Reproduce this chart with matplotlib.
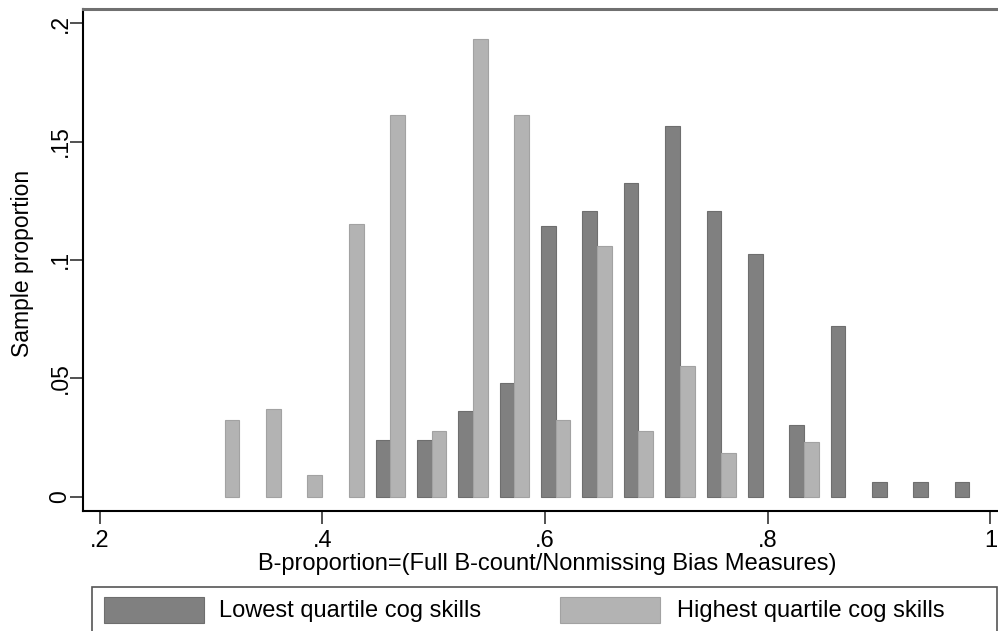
import numpy as np
import matplotlib
matplotlib.use("Agg")
import matplotlib.pyplot as plt
from matplotlib.patches import Rectangle

# bin midpoints of the B-proportion histogram
bin_mid = [0.3123, 0.3495, 0.3866, 0.4238, 0.4610, 0.4981, 0.5353, 0.5725,
           0.6096, 0.6468, 0.6839, 0.7211, 0.7583, 0.7954, 0.8326, 0.8697,
           0.9069, 0.9441, 0.9812]

# sample proportions per bin
lowest_q = [0, 0, 0, 0, 0.0241, 0.0241, 0.0361, 0.0482, 0.1145, 0.1205,
            0.1325, 0.1566, 0.1205, 0.1024, 0.0301, 0.0723, 0.0060, 0.0060, 0.0060]
highest_q = [0.0323, 0.0369, 0.0092, 0.1152, 0.1613, 0.0276, 0.1935, 0.1613,
             0.0323, 0.1060, 0.0276, 0.0553, 0.0184, 0, 0.0230, 0, 0, 0, 0]

x_ticks = [0.2, 0.4, 0.6, 0.8, 1.0]
x_ticklabels = ['.2', '.4', '.6', '.8', '1']
y_ticks = [0, 0.05, 0.1, 0.15, 0.2]
y_ticklabels = ['0', '.05', '.1', '.15', '.2']

dark = '#808080'
light = '#b3b3b3'
plt.rcParams['font.family'] = ['Liberation Sans', 'DejaVu Sans']

fig = plt.figure(figsize=(9.98, 6.31), dpi=100)
ax = fig.add_axes([0.0829, 0.1907, 0.9171, 0.7955])

w = 0.0132
x = np.array(bin_mid)
lo = np.array(lowest_q)
hi = np.array(highest_q)
m_lo = lo > 0
m_hi = hi > 0
ax.bar(x[m_lo] - w / 2, lo[m_lo], width=w, color=dark, edgecolor='#6e6e6e', linewidth=0.8)
ax.bar(x[m_hi] + w / 2, hi[m_hi], width=w, color=light, edgecolor='#a2a2a2', linewidth=0.8)

ax.set_xlim(0.1848, 1.0068)
ax.set_ylim(-0.0059, 0.2061)

ax.set_xticks(x_ticks)
ax.set_xticklabels(x_ticklabels, fontsize=17)
ax.set_yticks(y_ticks)
ax.set_yticklabels(y_ticklabels, fontsize=16.5, rotation=90, va='center')
ax.tick_params(axis='both', length=9.5, width=1.2, color='#333333')
ax.tick_params(axis='x', pad=4.5)
ax.tick_params(axis='y', pad=-1.5)

ax.spines['right'].set_visible(False)
ax.spines['top'].set_color('#707070')
ax.spines['top'].set_linewidth(2.2)
ax.spines['left'].set_linewidth(1.5)
ax.spines['bottom'].set_linewidth(1.5)

ax.set_xlabel('B-proportion=(Full B-count/Nonmissing Bias Measures)', fontsize=17,
              va='baseline')
ax.xaxis.set_label_coords(0.507, -0.118)
ax.set_ylabel('Sample proportion', fontsize=16.5, va='center')
ax.yaxis.set_label_coords(-0.0658, 0.493)

# legend box along the bottom, cut by the figure edge
fig.patches.append(Rectangle((91.5 / 998, -0.02), (996.7 - 91.5) / 998, 1 - 587.3 / 631 + 0.02,
                             transform=fig.transFigure, fill=False, edgecolor='#555555',
                             linewidth=1.2))
fig.patches.append(Rectangle((104 / 998, 1 - 622.7 / 631), 100 / 998, 25.4 / 631,
                             transform=fig.transFigure, facecolor=dark, edgecolor='#6e6e6e',
                             linewidth=0.8))
fig.patches.append(Rectangle((560 / 998, 1 - 622.7 / 631), 100 / 998, 25.4 / 631,
                             transform=fig.transFigure, facecolor=light, edgecolor='#a2a2a2',
                             linewidth=0.8))
fig.text(218.8 / 998, 1 - 611 / 631, 'Lowest quartile cog skills', fontsize=17, va='center')
fig.text(677 / 998, 1 - 611 / 631, 'Highest quartile cog skills', fontsize=17, va='center')

fig.savefig('out.png', dpi=100)
